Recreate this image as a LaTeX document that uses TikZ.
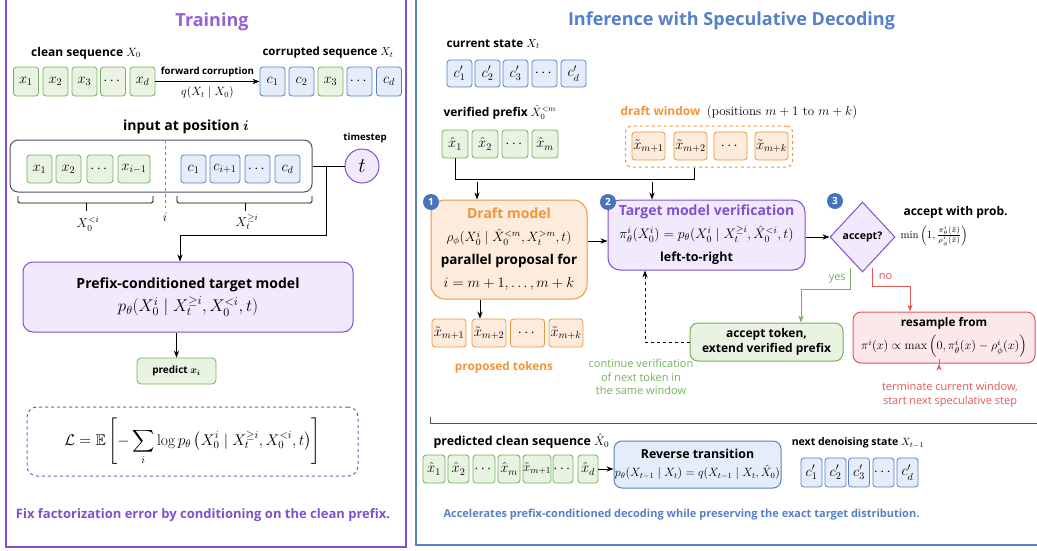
\RequirePackage{fix-cm}
\documentclass[tikz,border=0pt]{standalone}
\usepackage{amsmath,amssymb}
\usepackage{fontspec}
\setsansfont{Open Sans}
\usetikzlibrary{shapes.geometric,arrows.meta}

\definecolor{trainpurple}{RGB}{130,80,205}
\definecolor{titlepurple}{RGB}{150,95,215}
\definecolor{purplefill}{RGB}{240,234,252}
\definecolor{infblue}{RGB}{85,128,200}
\definecolor{bluefill}{RGB}{229,237,250}
\definecolor{tokgreen}{RGB}{115,178,90}
\definecolor{greenfill}{RGB}{232,243,226}
\definecolor{draftorange}{RGB}{242,148,58}
\definecolor{orangefill}{RGB}{253,236,220}
\definecolor{rejred}{RGB}{226,88,88}
\definecolor{redfill}{RGB}{252,232,232}
\definecolor{notegreen}{RGB}{112,178,92}
\definecolor{slate}{RGB}{70,82,105}
\definecolor{badgeblue}{RGB}{70,115,190}

\begin{document}
\begin{tikzpicture}[x=1pt, y=-1pt, >=Stealth,
    heading/.style={font=\sffamily\bfseries\fontsize{18}{21}\selectfont},
    lbl/.style={font=\sffamily\bfseries\fontsize{12}{14}\selectfont},
    note/.style={font=\sffamily\fontsize{11}{13.5}\selectfont, align=center},
    tok/.style={draw, rounded corners=3pt, line width=0.8pt, inner sep=0pt,
      minimum width=25pt, minimum height=28pt, font=\fontsize{14.5}{16}\selectfont},
    gtok/.style={tok, draw=tokgreen, fill=greenfill},
    btok/.style={tok, draw=infblue, fill=bluefill},
    otok/.style={tok, draw=draftorange, fill=orangefill},
    model/.style={draw, rounded corners=10pt, line width=1pt, inner sep=0pt,
      align=center, font=\fontsize{13.5}{23}\selectfont},
    badge/.style={circle, fill=badgeblue, text=white, inner sep=0pt,
      minimum size=16pt, font=\sffamily\bfseries\fontsize{10}{12}\selectfont},
    conn/.style={->, line width=0.9pt},
  ]
  \useasboundingbox (0,0) rectangle (1037,550);
  \clip (0,0) rectangle (1037,550);

  % --- Panel frames ---
  \draw[trainpurple, line width=1.2pt] (6,-10) rectangle (406,547);
  \draw[infblue, line width=1.2pt] (416,-10) rectangle (1050,545);

  % --- Left panel: Training ---
  \node[heading, text=titlepurple] (traintitle) at (212,22) {Training};

  \node[lbl] (cleanlbl) at (86,53) {clean sequence $X_0$};
  \foreach \tx/\xx [count=\k] in {{$x_1$}/26, {$x_2$}/55.5, {$x_3$}/84.5, {$\cdots$}/113, {$x_d$}/142.5}
    \node[gtok, minimum height=29pt] (cl\k) at (\xx,81.5) {\tx};

  \node[lbl, font=\sffamily\bfseries\fontsize{11.5}{14}\selectfont] (corrlbl) at (328,53) {corrupted sequence $X_t$};
  \foreach \k/\tx/\xx in {1/{$c_1$}/272.5, 2/{$c_2$}/301.5, 4/{$\cdots$}/359.5, 5/{$c_d$}/389}
    \node[btok, minimum height=29pt] (cr\k) at (\xx,81.5) {\tx};
  \node[gtok, minimum height=29pt] (cr3) at (330.5,81.5) {$x_3$};

  \draw[conn] (cl5) -- (cr1)
    node[midway, above=1pt, font=\sffamily\bfseries\fontsize{9.7}{11}\selectfont] {forward corruption}
    node[midway, below=1pt, font=\fontsize{12}{14}\selectfont] {$q(X_t \mid X_0)$};

  % input at position i
  \node[lbl, font=\sffamily\bfseries\fontsize{14}{16}\selectfont] (inlbl) at (186,127) {input at position $\boldsymbol{i}$};
  \node[draw=slate, line width=1pt, rounded corners=8pt, minimum width=302pt,
        minimum height=52pt] (inbox) at (161,166) {};
  \foreach \tx/\xx/\ww [count=\k] in {{$x_1$}/39.5/25, {$x_2$}/68.5/25, {$\cdots$}/100/26, {$x_{i-1}$}/134/32}
    \node[gtok, minimum width=\ww pt] (ix\k) at (\xx,169) {\tx};
  \foreach \tx/\xx/\ww [count=\k] in {{$c_1$}/193.5/25, {$c_{i+1}$}/225/30, {$\cdots$}/257.5/25, {$c_d$}/287.5/25}
    \node[btok, minimum width=\ww pt] (ic\k) at (\xx,169) {\tx};

  \draw[gray, dashed, line width=0.6pt] (inbox.north -| 165,0) -- (165,208);
  \node[font=\fontsize{13}{15}\selectfont] (ilbl) at (165,217) {$i$};

  % brackets under the two halves
  \draw[line width=0.8pt, rounded corners=1.5pt] (18,196) -- (18,203) -- (153,203) -- (153,196);
  \draw[line width=0.8pt] (86,203) -- (86,211);
  \node[font=\fontsize{13}{15}\selectfont] (prefixlbl) at (88,224) {$X_0^{<i}$};
  \draw[line width=0.8pt, rounded corners=1.5pt] (177,196) -- (177,203) -- (312,203) -- (312,196);
  \draw[line width=0.8pt] (245,203) -- (245,211);
  \node[font=\fontsize{13}{15}\selectfont] (suffixlbl) at (247,222) {$X_t^{\ge i}$};

  % timestep
  \node[circle, draw=trainpurple, fill=purplefill, line width=1pt, minimum size=34pt,
        inner sep=0pt, font=\fontsize{21}{23}\selectfont] (tstep) at (362,166) {$t$};
  \node[font=\sffamily\bfseries\fontsize{9.7}{11}\selectfont] (tsteplbl) at (365,138) {timestep};
  \draw[line width=0.9pt] (inbox.east) -- (tstep.west);
  \coordinate (tjoin) at (326,166);

  % target model and loss
  \node[model, draw=trainpurple, fill=purplefill, minimum width=330pt, minimum height=70pt,
        font=\fontsize{17}{23}\selectfont] (pcm) at (188,297)
    {{\sffamily\bfseries\fontsize{14}{16}\selectfont Prefix-conditioned target model}\\
     $p_\theta(X_0^i \mid X_t^{\ge i}, X_0^{<i}, t)$};
  \draw[conn] (tjoin) -- ++(0,69) -| ([xshift=-8pt]pcm.north);

  \node[draw=tokgreen, fill=greenfill, line width=0.8pt, rounded corners=4pt,
        minimum width=79pt, minimum height=26pt, inner sep=0pt,
        font=\sffamily\bfseries\fontsize{10}{12}\selectfont] (predict) at (176.5,371) {predict $\boldsymbol{x_i}$};
  \draw[conn] (predict.north |- pcm.south) -- (predict.north);

  \node[draw=trainpurple, dashed, line width=1pt, rounded corners=10pt,
        minimum width=331pt, minimum height=69pt, font=\fontsize{15.5}{17}\selectfont] (loss) at (192.5,441.5)
    {$\displaystyle \mathcal{L} = \mathbb{E}\left[-\sum_i \log p_\theta\left(X_0^i \mid X_t^{\ge i}, X_0^{<i}, t\right)\right]$};

  \node[font=\sffamily\bfseries\fontsize{13}{15}\selectfont, text=trainpurple] (trainnote) at (203,515)
    {Fix factorization error by conditioning on the clean prefix.};

  % --- Right panel: Inference ---
  \node[heading, text=infblue] (inftitle) at (731.5,21) {Inference with Speculative Decoding};

  \node[lbl, font=\sffamily\bfseries\fontsize{11.7}{14}\selectfont, anchor=west] (curlbl) at (443,44) {current state $X_t$};
  \foreach \tx/\xx [count=\k] in {{$c'_1$}/459.5, {$c'_2$}/487.5, {$c'_3$}/515.5, {$\cdots$}/544.5, {$c'_d$}/573.5}
    \node[btok, minimum height=27pt] (cs\k) at (\xx,73.5) {\tx};

  \node[lbl, anchor=west] (verlbl) at (440,112) {verified prefix $\hat{X}_0^{<m}$};
  \foreach \tx/\xx [count=\k] in {{$\hat{x}_1$}/455, {$\hat{x}_2$}/485, {$\cdots$}/515, {$\hat{x}_m$}/545}
    \node[gtok, minimum width=26pt] (vp\k) at (\xx,144) {\tx};

  \node[anchor=west, font=\fontsize{13}{15}\selectfont] (dwlbl) at (617,112)
    {{\sffamily\bfseries\fontsize{12}{14}\selectfont\color{draftorange}draft window}\enspace (positions $m+1$ to $m+k$)};
  \node[draw=draftorange, dashed, line width=1pt, rounded corners=6pt,
        minimum width=167pt, minimum height=41pt] (dwbox) at (709,146.5) {};
  \foreach \tx/\xx [count=\k] in {{$\tilde{x}_{m+1}$}/648.5, {$\tilde{x}_{m+2}$}/690.5, {$\cdots$}/730.5, {$\tilde{x}_{m+k}$}/771.5}
    \node[otok, minimum width=33pt] (dw\k) at (\xx,146) {\tx};

  % merge of prefix and window into the two models
  \draw[line width=0.9pt] (vp1.south) -- ++(0,21) -| ([xshift=-15pt]dwbox.south);

  \node[model, draw=draftorange, fill=orangefill, rounded corners=14pt,
        minimum width=156pt, minimum height=99pt] (draft) at (509,249.5)
    {{\sffamily\bfseries\fontsize{14}{16}\selectfont\color{draftorange}Draft model}\\
     $\rho_\phi(X_0^i \mid \hat{X}_0^{<m}, X_t^{>m}, t)$\\
     {\sffamily\bfseries\fontsize{13.5}{15}\selectfont parallel proposal for}\\
     {\fontsize{14.5}{16}\selectfont $i = m+1, \ldots, m+k$}};
  \node[model, draw=trainpurple, fill=purplefill, rounded corners=12pt,
        minimum width=197pt, minimum height=70pt, font=\fontsize{13.8}{23}\selectfont] (target) at (706.5,235)
    {\rule{0pt}{8pt}{\sffamily\bfseries\fontsize{14}{16}\selectfont\color{trainpurple}Target model verification}\\
     $\pi_\theta^i(X_0^i) = p_\theta(X_0^i \mid X_t^{\ge i}, \hat{X}_0^{<i}, t)$\\
     {\sffamily\bfseries\fontsize{12.5}{14}\selectfont left-to-right\hspace*{20pt}}};
  \draw[conn] (draft.north -| 477,0) ++(0,-18) -- (draft.north -| 477,0);
  \draw[conn] (target.north -| 652,0) ++(0,-18) -- (target.north -| 652,0);

  \node[badge] (b1) at (431,202) {1};
  \node[badge] (b2) at (608,202) {2};
  \node[badge] (b3) at (835,201) {3};

  \node[diamond, draw=trainpurple, fill=purplefill, line width=1pt, inner sep=0pt,
        minimum width=65pt, minimum height=70pt,
        font=\sffamily\bfseries\fontsize{10.5}{13}\selectfont] (acc) at (862.5,237) {accept?};
  \draw[conn] (draft.east |- 0,241) -- (target.west |- 0,241);
  \draw[conn] (target.east |- acc.west) -- (acc.west);

  \node[lbl, anchor=west] (problbl) at (900,212) {accept with prob.};
  \node[anchor=west, font=\fontsize{11}{13}\selectfont] (probf) at (897,236)
    {$\min\left(1, \frac{\pi_\theta^i(\tilde{x})}{\rho_\phi^i(\tilde{x})}\right)$};

  % proposed tokens
  \foreach \tx/\xx [count=\k] in {{$\tilde{x}_{m+1}$}/449, {$\tilde{x}_{m+2}$}/489, {$\cdots$}/527.5, {$\tilde{x}_{m+k}$}/566}
    \node[otok, minimum width=34pt] (pt\k) at (\xx,333) {\tx};
  \draw[conn] ([xshift=-9pt]pt2.north |- draft.south) -- ([xshift=-9pt]pt2.north);
  \node[font=\sffamily\bfseries\fontsize{11.8}{14}\selectfont, text=draftorange] (ptlbl) at (504,367) {proposed tokens};

  % accept / reject branches
  \node[draw=tokgreen, fill=greenfill, line width=1pt, rounded corners=8pt, align=center,
        minimum width=153pt, minimum height=38pt, inner sep=0pt,
        font=\sffamily\bfseries\fontsize{12}{15}\selectfont] (accbox) at (766.5,342)
    {accept token,\\extend verified prefix};
  \node[draw=rejred, fill=redfill, line width=1pt, rounded corners=8pt, align=center,
        minimum width=182pt, minimum height=51pt, inner sep=0pt,
        font=\fontsize{12.3}{23}\selectfont] (resamp) at (944,337.5)
    {{\sffamily\bfseries\fontsize{11.8}{14}\selectfont resample from}\\
     $\pi^i(x) \propto \max\left(0, \pi_\theta^i(x) - \rho_\phi^i(x)\right)$};

  \draw[conn, tokgreen] ([xshift=-12pt,yshift=5pt]acc.south) -- ++(0,22)
    node[midway, left=1pt, font=\sffamily\fontsize{11}{13}\selectfont] {yes}
    -| ([xshift=34.5pt]accbox.north);
  \draw[conn, rejred] ([xshift=9.5pt,yshift=5pt]acc.south) -- ++(0,19)
    node[midway, right=3pt, font=\sffamily\fontsize{11}{13}\selectfont] {no}
    -| ([xshift=-34pt]resamp.north);

  \draw[conn, dashed] (accbox.west) -| ([xshift=-61.5pt]target.south);
  \node[note, text=notegreen] (contnote) at (641,377)
    {continue verification\\of next token in\\the same window};

  \node[note, text=rejred, font=\sffamily\fontsize{11}{14}\selectfont] (termnote) at (950,395)
    {terminate current window,\\start next speculative step};
  \draw[conn, rejred] ([xshift=-5pt]resamp.south) -- (resamp.south -| 939,380);

  % --- Bottom: reverse transition ---
  \draw[line width=1pt, slate] (430,417) -- (430,423) -- (1040,423);

  \node[lbl, font=\sffamily\bfseries\fontsize{12.4}{14}\selectfont, anchor=west] (predlbl) at (430,441) {predicted clean sequence $\hat{X}_0$};
  \foreach \tx/\xx/\ww [count=\k] in {{$\hat{x}_1$}/434/22, {$\hat{x}_2$}/458.5/21, {$\cdots$}/484/22, {$\hat{x}_m$}/509/22}
    \node[gtok, minimum width=\ww pt] (pc\k) at (\xx,469) {\tx};
  \node[gtok, minimum width=26pt, font=\fontsize{13}{15}\selectfont] (pc5) at (537,469) {$\tilde{x}_{m+1}$};
  \node[gtok, minimum width=20pt] (pc6) at (563,469) {$\cdots$};
  \node[gtok, minimum width=20pt] (pc7) at (588,469) {$\hat{x}_d$};

  \node[model, draw=infblue, fill=bluefill, rounded corners=8pt,
        minimum width=167pt, minimum height=47pt, font=\fontsize{12}{18}\selectfont] (rev) at (697.5,464.5)
    {{\sffamily\bfseries\fontsize{12.4}{14}\selectfont Reverse transition}\\
     $p_\theta(X_{t-1} \mid X_t) = q(X_{t-1} \mid X_t, \hat{X}_0)$};
  \draw[conn] (pc7) -- (rev.west |- pc7);

  \node[lbl, font=\sffamily\bfseries\fontsize{10.5}{13}\selectfont] (nextlbl) at (858,443) {next denoising state $X_{t-1}$};
  \foreach \tx/\xx [count=\k] in {{$c'_1$}/811.5, {$c'_2$}/835.5, {$c'_3$}/859, {$\cdots$}/883.5, {$c'_d$}/907.5}
    \node[btok, minimum width=21pt, minimum height=29pt] (nd\k) at (\xx,472.5) {\tx};

  \node[font=\sffamily\bfseries\fontsize{11}{13}\selectfont, text=infblue] (infnote) at (681.5,515)
    {Accelerates prefix-conditioned decoding while preserving the exact target distribution.};
\end{tikzpicture}
\end{document}
